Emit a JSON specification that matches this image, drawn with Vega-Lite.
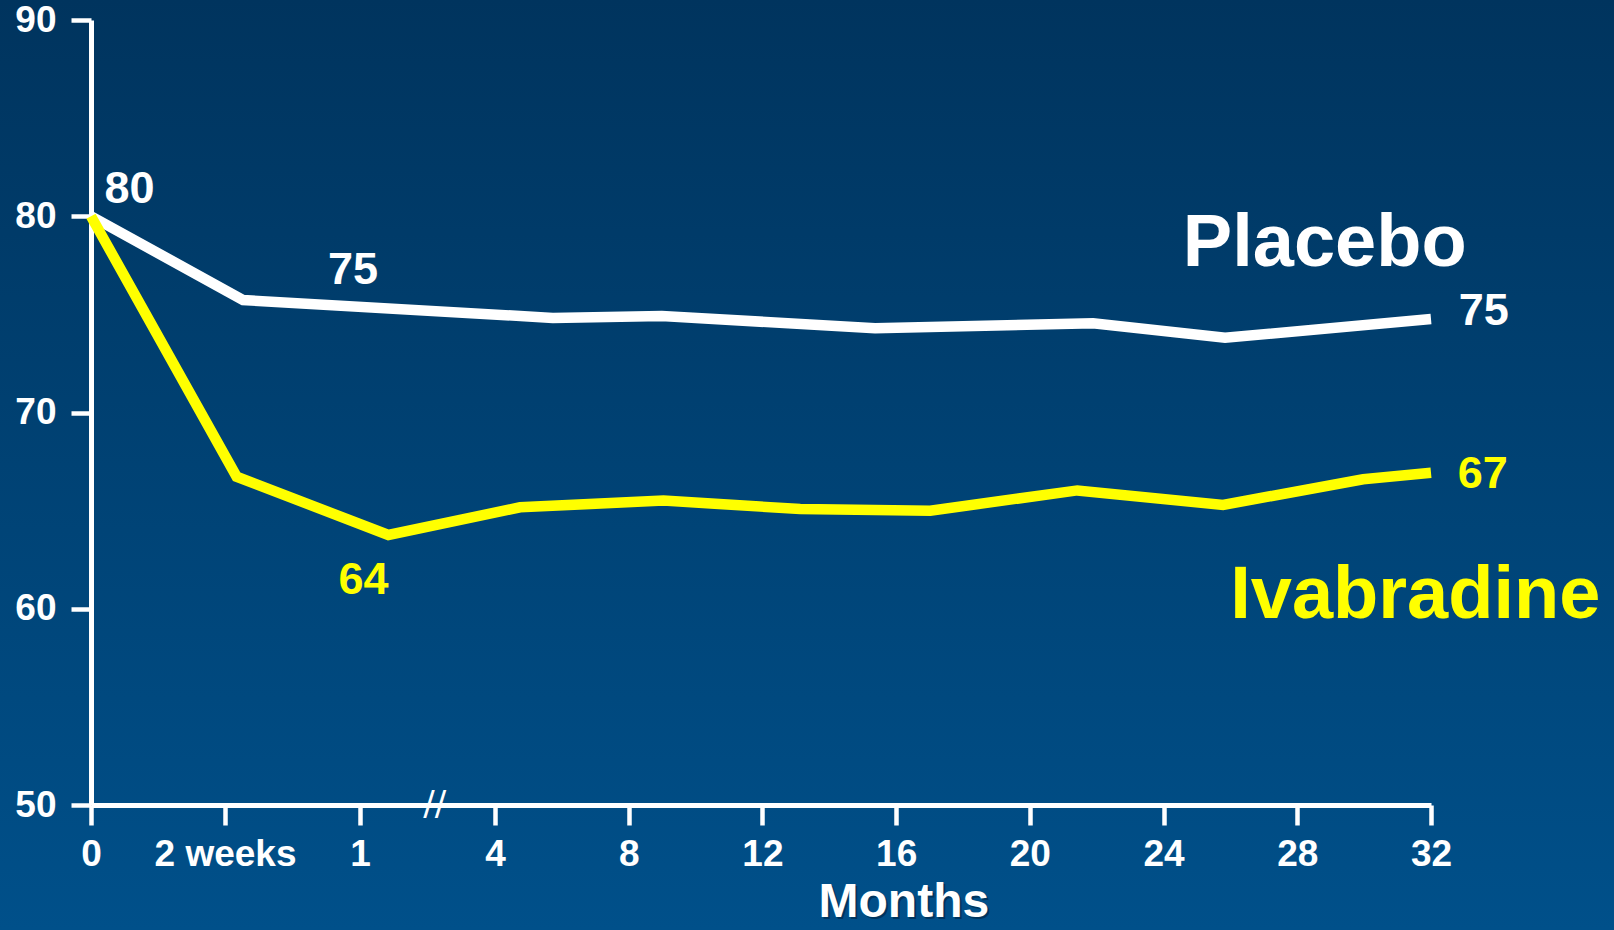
{
  "$schema": "https://vega.github.io/schema/vega-lite/v6.json",
  "width": 1614,
  "height": 930,
  "autosize": {"type": "none"},
  "padding": 0,
  "background": "#00426f",
  "config": {
    "font": "Liberation Sans",
    "view": {
      "stroke": null,
      "fill": {
        "gradient": "linear",
        "x1": 0, "y1": 0, "x2": 0, "y2": 1,
        "stops": [
          {"offset": 0, "color": "#00345e"},
          {"offset": 1, "color": "#00508a"}
        ]
      }
    }
  },
  "datasets": {
    "series": [
      {"series": "Placebo", "t": 0, "v": 80},
      {"series": "Placebo", "t": 0.567, "v": 75.73},
      {"series": "Placebo", "t": 5.73, "v": 74.82},
      {"series": "Placebo", "t": 8.99, "v": 74.92},
      {"series": "Placebo", "t": 15.37, "v": 74.29},
      {"series": "Placebo", "t": 21.89, "v": 74.55},
      {"series": "Placebo", "t": 25.84, "v": 73.81},
      {"series": "Placebo", "t": 32, "v": 74.76},
      {"series": "Ivabradine", "t": 0, "v": 80},
      {"series": "Ivabradine", "t": 0.543, "v": 66.73},
      {"series": "Ivabradine", "t": 1.63, "v": 63.76},
      {"series": "Ivabradine", "t": 4.75, "v": 65.17},
      {"series": "Ivabradine", "t": 9.04, "v": 65.51},
      {"series": "Ivabradine", "t": 13.13, "v": 65.08},
      {"series": "Ivabradine", "t": 17.02, "v": 65.0},
      {"series": "Ivabradine", "t": 21.42, "v": 66.03},
      {"series": "Ivabradine", "t": 25.78, "v": 65.29},
      {"series": "Ivabradine", "t": 29.97, "v": 66.6},
      {"series": "Ivabradine", "t": 32, "v": 66.93}
    ],
    "numbers": [
      {"series": "Placebo", "label": "80", "t": 0.144, "v": 80.69},
      {"series": "Placebo", "label": "75", "t": 0.974, "v": 76.55},
      {"series": "Ivabradine", "label": "64", "t": 1.076, "v": 60.75},
      {"series": "Placebo", "label": "75", "t": 33.58, "v": 74.44},
      {"series": "Ivabradine", "label": "67", "t": 33.55, "v": 66.16}
    ],
    "names": [
      {"series": "Placebo", "label": "Placebo", "t": 28.82, "v": 77.49},
      {"series": "Ivabradine", "label": "Ivabradine", "t": 31.53, "v": 59.55}
    ],
    "axistitle": [
      {"label": "Months", "t": 16.23, "v": 44.3}
    ],
    "breakmark": [
      {"label": "//", "t": 2.66, "v": 50}
    ]
  },
  "encoding": {
    "x": {
      "field": "t",
      "type": "quantitative",
      "scale": {"domain": [0, 0.5, 1, 4, 32], "range": [91, 225, 360, 495, 1431], "nice": false, "zero": false},
      "axis": {
        "orient": "bottom",
        "offset": -125,
        "title": null,
        "grid": false,
        "values": [0, 0.5, 1, 4, 8, 12, 16, 20, 24, 28, 32],
        "labelExpr": "datum.value == 0.5 ? '2 weeks' : datum.label",
        "domainColor": "#ffffff",
        "domainWidth": 5,
        "tickColor": "#ffffff",
        "tickWidth": 4.5,
        "tickSize": 20,
        "labelColor": "#ffffff",
        "labelFont": "Liberation Sans",
        "labelFontWeight": "bold",
        "labelFontSize": 37,
        "labelPadding": 11,
        "labelFlush": false,
        "labelOverlap": false
      }
    },
    "y": {
      "field": "v",
      "type": "quantitative",
      "scale": {"domain": [50, 90], "range": [805, 20], "nice": false, "zero": false},
      "axis": {
        "orient": "left",
        "offset": -91,
        "title": null,
        "grid": false,
        "values": [50, 60, 70, 80, 90],
        "domainColor": "#ffffff",
        "domainWidth": 5,
        "tickColor": "#ffffff",
        "tickWidth": 4.5,
        "tickSize": 20,
        "labelColor": "#ffffff",
        "labelFont": "Liberation Sans",
        "labelFontWeight": "bold",
        "labelFontSize": 37,
        "labelPadding": 15
      }
    },
    "color": {
      "field": "series",
      "type": "nominal",
      "scale": {"domain": ["Placebo", "Ivabradine"], "range": ["#ffffff", "#ffff00"]},
      "legend": null
    }
  },
  "layer": [
    {
      "data": {"name": "series"},
      "transform": [{"filter": "datum.series == 'Placebo'"}],
      "mark": {"type": "line", "strokeWidth": 10.5, "strokeJoin": "miter", "strokeCap": "butt", "clip": false}
    },
    {
      "data": {"name": "series"},
      "transform": [{"filter": "datum.series == 'Ivabradine'"}],
      "mark": {"type": "line", "strokeWidth": 10.5, "strokeJoin": "miter", "strokeCap": "butt", "clip": false}
    },
    {
      "data": {"name": "numbers"},
      "mark": {"type": "text", "font": "Liberation Sans", "fontWeight": "bold", "fontSize": 45, "align": "center", "baseline": "alphabetic"},
      "encoding": {"text": {"field": "label"}}
    },
    {
      "data": {"name": "names"},
      "mark": {"type": "text", "font": "Liberation Sans", "fontWeight": "bold", "fontSize": 74, "align": "center", "baseline": "alphabetic"},
      "encoding": {"text": {"field": "label"}}
    },
    {
      "data": {"name": "axistitle"},
      "mark": {"type": "text", "font": "Liberation Sans", "fontWeight": "bold", "fontSize": 48, "align": "center", "baseline": "alphabetic", "dx": 2, "dy": 2, "opacity": 0.5},
      "encoding": {"text": {"field": "label"}, "color": {"value": "#001a33"}}
    },
    {
      "data": {"name": "axistitle"},
      "mark": {"type": "text", "font": "Liberation Sans", "fontWeight": "bold", "fontSize": 48, "align": "center", "baseline": "alphabetic"},
      "encoding": {"text": {"field": "label"}, "color": {"value": "#ffffff"}}
    },
    {
      "data": {"name": "breakmark"},
      "mark": {"type": "text", "font": "DejaVu Sans", "fontSize": 34, "align": "center", "baseline": "middle"},
      "encoding": {"text": {"field": "label"}, "color": {"value": "#ffffff"}}
    }
  ]
}
